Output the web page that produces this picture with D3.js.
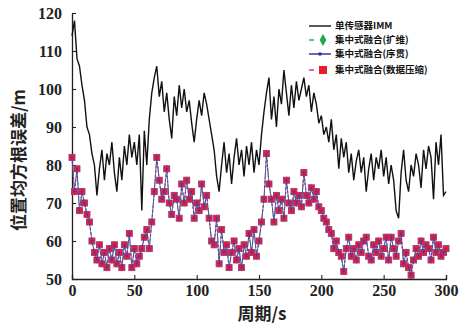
<!DOCTYPE html>
<html>
<head>
<meta charset="utf-8">
<script src="https://cdn.jsdelivr.net/npm/d3@7"></script>
<style>
  body { margin: 0; background: #fff; }
  svg { display: block; }
</style>
</head>
<body>
<script>
const width = 462;
const height = 326;

// period axis, every 2 s
const periods = d3.range(0, 301, 2);

// 单传感器IMM
const immValues = [
  114, 118, 108, 106, 101, 97, 90, 88, 83, 80, 72, 79, 84, 76, 83, 80, 86, 78, 73, 82,
  76, 85, 80, 88, 82, 86, 80, 88, 68, 89, 80, 92, 99, 103, 106, 98, 102, 94, 99, 92,
  87, 98, 93, 101, 95, 100, 94, 97, 91, 86, 92, 97, 93, 99, 96, 92, 88, 84, 77, 73,
  80, 86, 78, 83, 75, 82, 87, 80, 84, 77, 85, 80, 86, 78, 84, 80, 88, 94, 99, 103,
  92, 98, 90, 100, 96, 105, 99, 93, 101, 95, 102, 97, 100, 103, 98, 101, 94, 99, 96, 91,
  93, 88, 90, 86, 92, 84, 88, 79, 87, 82, 86, 78, 83, 76, 81, 84, 78, 82, 73, 79,
  83, 76, 82, 79, 84, 77, 82, 75, 80, 76, 68, 66, 78, 84, 76, 73, 80, 77, 83, 80,
  74, 84, 79, 85, 82, 71, 86, 80, 88, 72, 73
];

// 集中式融合 (扩维 / 序贯 / 数据压缩) — the three curves overlap in the figure
const fusedValues = [
  82, 73, 79, 68, 73, 70, 67, 65, 60, 57, 55, 59, 54, 57, 53, 58, 55, 59, 54, 57,
  53, 59, 56, 62, 53, 58, 54, 56, 58, 61, 63, 58, 65, 73, 82, 76, 71, 73, 79, 70,
  67, 72, 71, 66, 75, 70, 76, 71, 73, 66, 70, 68, 75, 69, 72, 66, 60, 59, 66, 54,
  63, 57, 59, 53, 57, 60, 55, 58, 53, 59, 56, 62, 57, 63, 56, 60, 65, 71, 83, 75,
  71, 65, 72, 68, 71, 66, 76, 70, 68, 73, 70, 72, 69, 78, 72, 70, 74, 71, 73, 69,
  68, 66, 65, 63, 62, 58, 60, 57, 56, 52, 58, 61, 56, 58, 55, 59, 57, 60, 61, 56,
  55, 59, 57, 60, 56, 58, 61, 55, 61, 58, 56, 60, 62, 54, 57, 53, 51, 55, 58, 56,
  60, 57, 59, 58, 55, 61, 57, 59, 56, 57, 58
];

const xTicks = [0, 50, 100, 150, 200, 250, 300];
const yTicks = [50, 60, 70, 80, 90, 100, 110, 120];

const legendLabels = [
  "单传感器IMM",
  "集中式融合(扩维)",
  "集中式融合(序贯)",
  "集中式融合(数据压缩)"
];

const x = d3.scaleLinear().domain([0, 300]).range([72, 446]);
const y = d3.scaleLinear().domain([50, 120]).range([279, 13]);

const svg = d3
  .select("body")
  .append("svg")
  .attr("width", width)
  .attr("height", height);

const immData = periods.map((t, i) => ({ t, v: immValues[i] }));
const fusedData = periods.map((t, i) => ({ t, v: fusedValues[i] }));

const line = d3
  .line()
  .x((d) => x(d.t))
  .y((d) => y(d.v));

// axes
const tickFont = "'Liberation Serif', 'DejaVu Serif', serif";

const xAxis = svg
  .append("g")
  .attr("transform", `translate(0,${y(50)})`)
  .call(d3.axisBottom(x).tickValues(xTicks).tickSizeInner(-4).tickSizeOuter(-4).tickPadding(6));

const yAxis = svg
  .append("g")
  .attr("transform", `translate(${x(0)},0)`)
  .call(d3.axisLeft(y).tickValues(yTicks).tickSizeInner(-4).tickSizeOuter(0).tickPadding(10));

[xAxis, yAxis].forEach((g) => {
  g.select(".domain").attr("stroke", "#222").attr("stroke-width", 1.3);
  g.selectAll(".tick line").attr("stroke", "#222").attr("stroke-width", 1.1);
  g.selectAll(".tick text")
    .attr("fill", "#222")
    .style("font-family", tickFont)
    .style("font-weight", "bold")
    .style("font-size", "16px");
});

// single sensor IMM
svg
  .append("path")
  .datum(immData)
  .attr("fill", "none")
  .attr("stroke", "#111")
  .attr("stroke-width", 1.4)
  .attr("d", line);

// 扩维 (green, dashed, diamonds)
svg
  .append("path")
  .datum(fusedData)
  .attr("fill", "none")
  .attr("stroke", "#1fa84a")
  .attr("stroke-width", 1)
  .attr("stroke-dasharray", "3,2")
  .attr("d", line);

svg
  .append("g")
  .selectAll("path")
  .data(fusedData)
  .join("path")
  .attr("transform", (d) => `translate(${x(d.t)},${y(d.v)})`)
  .attr("d", d3.symbol(d3.symbolDiamond, 18))
  .attr("fill", "#1fa84a");

// 数据压缩 (magenta dotted line, red squares)
svg
  .append("path")
  .datum(fusedData)
  .attr("fill", "none")
  .attr("stroke", "#c0308a")
  .attr("stroke-width", 1)
  .attr("stroke-dasharray", "2,2")
  .attr("d", line);

svg
  .append("g")
  .selectAll("rect")
  .data(fusedData)
  .join("rect")
  .attr("x", (d) => x(d.t) - 3)
  .attr("y", (d) => y(d.v) - 3)
  .attr("width", 6)
  .attr("height", 6)
  .attr("fill", "#ec1c2c")
  .attr("stroke", "#8e3c8c")
  .attr("stroke-width", 0.9);

// 序贯 (blue line, small dots)
svg
  .append("path")
  .datum(fusedData)
  .attr("fill", "none")
  .attr("stroke", "#4a3aa8")
  .attr("stroke-width", 0.8)
  .attr("stroke-opacity", 0.8)
  .attr("d", line);

svg
  .append("g")
  .selectAll("circle")
  .data(fusedData)
  .join("circle")
  .attr("cx", (d) => x(d.t))
  .attr("cy", (d) => y(d.v))
  .attr("r", 0.9)
  .attr("fill", "#3a3ab0");

// axis titles
const cjkFont = "'Noto Sans CJK SC', sans-serif";

svg
  .append("text")
  .attr("x", 262)
  .attr("y", 320)
  .attr("text-anchor", "middle")
  .style("font-family", cjkFont)
  .style("font-weight", "bold")
  .style("font-size", "17px")
  .attr("fill", "#222")
  .text("周期/s");

svg
  .append("text")
  .attr("transform", "translate(25,160) rotate(-90)")
  .attr("text-anchor", "middle")
  .style("font-family", cjkFont)
  .style("font-weight", "bold")
  .style("font-size", "17px")
  .attr("fill", "#222")
  .text("位置均方根误差/m");

// legend
const legendRows = [26, 40, 54, 70];
const legend = svg.append("g");

legend
  .selectAll("text")
  .data(legendLabels)
  .join("text")
  .attr("x", 335)
  .attr("y", (d, i) => legendRows[i])
  .attr("dy", "0.35em")
  .style("font-family", cjkFont)
  .style("font-weight", "bold")
  .style("font-size", "9.5px")
  .attr("fill", "#111")
  .text((d) => d);

legend.append("line")
  .attr("x1", 309).attr("x2", 331)
  .attr("y1", legendRows[0]).attr("y2", legendRows[0])
  .attr("stroke", "#111").attr("stroke-width", 1.4);

legend.append("line")
  .attr("x1", 309).attr("x2", 314)
  .attr("y1", legendRows[1]).attr("y2", legendRows[1])
  .attr("stroke", "#1fa84a").attr("stroke-width", 1.4);
legend.append("path")
  .attr("transform", `translate(323,${legendRows[1]})`)
  .attr("d", d3.symbol(d3.symbolDiamond, 40))
  .attr("fill", "#1fa84a");

legend.append("line")
  .attr("x1", 309).attr("x2", 331)
  .attr("y1", legendRows[2]).attr("y2", legendRows[2])
  .attr("stroke", "#2a2aa0").attr("stroke-width", 1.4);
legend.append("circle")
  .attr("cx", 320).attr("cy", legendRows[2]).attr("r", 1.8)
  .attr("fill", "#2a2aa0");

legend.append("line")
  .attr("x1", 309).attr("x2", 314)
  .attr("y1", legendRows[3]).attr("y2", legendRows[3])
  .attr("stroke", "#c0308a").attr("stroke-width", 1.4);
legend.append("rect")
  .attr("x", 319).attr("y", legendRows[3] - 4)
  .attr("width", 8).attr("height", 8)
  .attr("fill", "#ec1c2c");
</script>
</body>
</html>
